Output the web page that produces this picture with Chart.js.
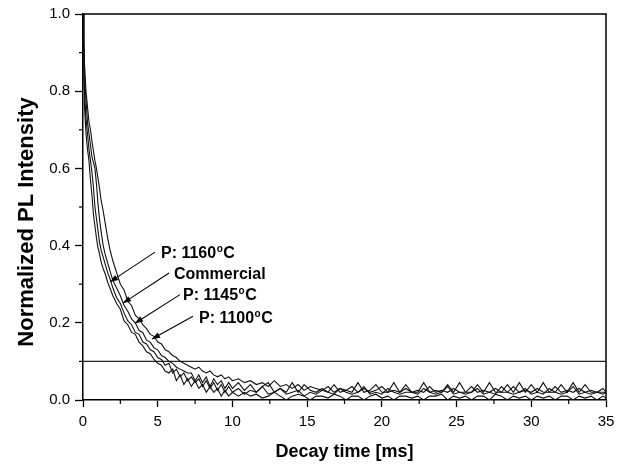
<!DOCTYPE html>
<html><head><meta charset="utf-8">
<script src="https://cdn.jsdelivr.net/npm/chart.js@4.4.1/dist/chart.umd.min.js"></script>
<style>html,body{margin:0;padding:0;background:#fff}canvas{display:block}</style>
</head><body>
<canvas id="c" width="626" height="467"></canvas>
<script>
// ---------- data ----------
const decayTime = [
  0,0.05,0.1,0.2,0.3,0.4,0.5,0.6,0.7,0.8,0.9,1.0,1.1,1.2,1.35,1.5,1.65,1.8,2.0,
  2.25,2.5,2.75,3.0,3.25,3.5,3.75,4.0,4.25,4.5,
  4.75,5.0,5.25,5.5,5.75,6.0,6.25,6.5,6.75,7.0,
  7.25,7.5,7.75,8.0,8.25,8.5,8.75,9.0,9.25,9.5,
  9.75,10.0,
  10.4,10.8,11.2,11.6,12.0,12.4,12.8,13.2,13.6,14.0,
  14.4,14.8,15.2,15.6,16.0,16.4,16.8,17.2,17.6,18.0,
  18.4,18.8,19.2,19.6,20.0,20.4,20.8,21.2,21.6,22.0,
  22.4,22.8,23.2,23.6,24.0,24.4,24.8,25.2,25.6,26.0,
  26.4,26.8,27.2,27.6,28.0,28.4,28.8,29.2,29.6,30.0,
  30.4,30.8,31.2,31.6,32.0,32.4,32.8,33.2,33.6,34.0,
  34.4,34.8,35.0
];
const intensityP1160 = [
  1.0,0.86,0.76,0.69,0.65,0.62,0.57,0.53,0.48,0.45,0.42,0.395,0.38,0.36,0.34,0.325,0.305,0.29,0.27,
  0.25,0.235,0.205,0.195,0.175,0.17,0.15,0.14,0.125,0.12,
  0.105,0.095,0.09,0.075,0.07,0.08,0.05,0.065,0.04,0.055,
  0.035,0.05,0.03,0.04,0.02,0.035,0.02,0.03,0.01,0.025,
  0.01,0.02,
  0.01,0.02,0.01,0.015,0.005,0.01,0.02,0.01,0.0,0.01,
  0.015,0.01,0.0,0.01,0.01,0.005,0.015,0.01,0.0,0.01,
  0.01,0.0,0.01,0.015,0.005,0.01,0.0,0.01,0.01,0.005,
  0.01,0.0,0.01,0.01,0.015,0.0,0.01,0.005,0.01,0.0,
  0.01,0.01,0.0,0.015,0.01,0.0,0.01,0.005,0.01,0.0,
  0.01,0.005,0.01,0.0,0.01,0.01,0.0,0.01,0.005,0.01,
  0.0,0.01,0.005
];
const intensityCommercial = [
  1.0,0.9,0.8,0.73,0.69,0.65,0.62,0.59,0.55,0.5,0.47,0.44,0.41,0.39,0.37,0.35,0.33,0.315,0.29,
  0.265,0.25,0.225,0.205,0.195,0.175,0.17,0.15,0.145,0.13,
  0.125,0.11,0.105,0.09,0.095,0.07,0.08,0.06,0.07,0.05,
  0.06,0.045,0.055,0.035,0.05,0.03,0.045,0.025,0.04,0.02,
  0.035,0.02,
  0.03,0.015,0.025,0.02,0.035,0.015,0.02,0.03,0.015,0.02,
  0.025,0.01,0.02,0.015,0.025,0.02,0.015,0.03,0.02,0.015,
  0.02,0.035,0.015,0.02,0.015,0.03,0.02,0.015,0.02,0.02,
  0.015,0.03,0.02,0.015,0.02,0.035,0.015,0.02,0.015,0.02,
  0.03,0.015,0.02,0.015,0.035,0.02,0.015,0.02,0.03,0.015,
  0.02,0.015,0.03,0.02,0.015,0.02,0.035,0.015,0.02,0.015,
  0.02,0.015,0.02
];
const intensityP1145 = [
  1.0,0.92,0.84,0.78,0.72,0.69,0.66,0.63,0.615,0.6,0.56,0.51,0.47,0.44,0.40,0.375,0.355,0.335,0.31,
  0.29,0.27,0.245,0.23,0.21,0.2,0.18,0.175,0.155,0.15,
  0.135,0.13,0.115,0.11,0.1,0.095,0.085,0.08,0.075,0.07,
  0.07,0.05,0.065,0.045,0.06,0.035,0.055,0.04,0.05,0.03,
  0.045,0.03,
  0.045,0.025,0.04,0.02,0.035,0.045,0.02,0.03,0.02,0.045,
  0.02,0.04,0.025,0.02,0.03,0.02,0.04,0.02,0.025,0.02,
  0.045,0.02,0.025,0.04,0.02,0.02,0.045,0.02,0.04,0.02,
  0.02,0.045,0.02,0.025,0.02,0.04,0.02,0.045,0.02,0.02,
  0.04,0.02,0.045,0.02,0.02,0.04,0.02,0.045,0.02,0.04,
  0.02,0.045,0.02,0.02,0.04,0.02,0.045,0.02,0.04,0.02,
  0.02,0.02,0.02
];
const intensityP1100 = [
  1.0,0.94,0.87,0.8,0.76,0.72,0.70,0.67,0.645,0.62,0.6,0.575,0.55,0.52,0.49,0.455,0.42,0.39,0.36,
  0.33,0.3,0.285,0.255,0.245,0.22,0.21,0.195,0.185,0.17,
  0.165,0.15,0.145,0.13,0.125,0.115,0.11,0.1,0.095,0.09,
  0.085,0.08,0.085,0.075,0.07,0.075,0.065,0.06,0.065,0.055,
  0.06,0.05,
  0.055,0.045,0.05,0.04,0.045,0.035,0.05,0.035,0.04,0.03,
  0.04,0.025,0.035,0.03,0.025,0.035,0.02,0.03,0.025,0.035,
  0.02,0.03,0.02,0.025,0.035,0.02,0.025,0.02,0.03,0.02,
  0.025,0.02,0.035,0.02,0.025,0.02,0.03,0.02,0.02,0.035,
  0.02,0.025,0.02,0.03,0.02,0.02,0.035,0.02,0.025,0.02,
  0.03,0.02,0.02,0.035,0.02,0.025,0.02,0.03,0.02,0.025,
  0.02,0.03,0.02
];
const seriesLabels = ['P: 1160°C', 'Commercial', 'P: 1145°C', 'P: 1100°C'];
const thresholdLevel = 0.1;
const xTitle = 'Decay time [ms]';
const yTitle = 'Normalized PL Intensity';

// ---------- presentation ----------
const FONT = "'Liberation Sans', Arial, Helvetica, sans-serif";
const annotationLayout = [
  { text: seriesLabels[0], textAt: [5.22, 0.383], from: [4.82, 0.383], to: [1.81, 0.306] },
  { text: seriesLabels[1], textAt: [6.09, 0.329], from: [5.76, 0.329], to: [2.68, 0.251] },
  { text: seriesLabels[2], textAt: [6.69, 0.275], from: [6.49, 0.273], to: [3.48, 0.199] },
  { text: seriesLabels[3], textAt: [7.76, 0.215], from: [7.36, 0.217], to: [4.62, 0.158] }
];

function toPoints(values) { return decayTime.map((t, i) => ({ x: t, y: values[i] })); }

const curveStyle = { borderColor: '#111', borderWidth: 1.1, pointRadius: 0, fill: false, tension: 0 };

const datasets = [
  Object.assign({ label: seriesLabels[0], data: toPoints(intensityP1160) }, curveStyle),
  Object.assign({ label: seriesLabels[1], data: toPoints(intensityCommercial) }, curveStyle),
  Object.assign({ label: seriesLabels[2], data: toPoints(intensityP1145) }, curveStyle),
  Object.assign({ label: seriesLabels[3], data: toPoints(intensityP1100) }, curveStyle),
  { label: 'threshold', data: [{ x: decayTime[0], y: thresholdLevel }, { x: decayTime[decayTime.length - 1], y: thresholdLevel }],
    borderColor: '#222', borderWidth: 1.2, pointRadius: 0, fill: false }
];

const framePlugin = {
  id: 'frame',
  afterDraw(chart) {
    const { ctx, chartArea: a, scales: { x, y } } = chart;
    ctx.save();
    ctx.strokeStyle = '#000';
    ctx.lineWidth = 1.5;
    ctx.beginPath();
    ctx.moveTo(a.left, a.top); ctx.lineTo(a.right, a.top); ctx.lineTo(a.right, a.bottom);
    ctx.stroke();
    ctx.lineWidth = 1.2;
    const xt = x.ticks.map(t => t.value);
    for (let i = 0; i < xt.length - 1; i++) {
      const px = x.getPixelForValue((xt[i] + xt[i + 1]) / 2);
      ctx.beginPath(); ctx.moveTo(px, a.bottom); ctx.lineTo(px, a.bottom + 4); ctx.stroke();
    }
    const yt = y.ticks.map(t => t.value);
    for (let i = 0; i < yt.length - 1; i++) {
      const py = y.getPixelForValue((yt[i] + yt[i + 1]) / 2);
      ctx.beginPath(); ctx.moveTo(a.left, py); ctx.lineTo(a.left - 4, py); ctx.stroke();
    }
    ctx.fillStyle = '#000';
    ctx.font = 'bold 22px ' + FONT;
    ctx.textAlign = 'center';
    ctx.textBaseline = 'middle';
    ctx.translate(27, (a.top + a.bottom) / 2 + 15);
    ctx.rotate(-Math.PI / 2);
    ctx.fillText(yTitle, 0, 0);
    ctx.restore();
  }
};

const annotationPlugin = {
  id: 'labels',
  afterDraw(chart) {
    const { ctx, scales: { x, y } } = chart;
    ctx.save();
    ctx.fillStyle = '#000';
    ctx.strokeStyle = '#000';
    annotationLayout.forEach(a => {
      const x1 = x.getPixelForValue(a.from[0]), y1 = y.getPixelForValue(a.from[1]);
      const x2 = x.getPixelForValue(a.to[0]), y2 = y.getPixelForValue(a.to[1]);
      ctx.lineWidth = 1.1;
      ctx.beginPath(); ctx.moveTo(x1, y1); ctx.lineTo(x2, y2); ctx.stroke();
      const ang = Math.atan2(y2 - y1, x2 - x1);
      const L = 8, W = 3;
      ctx.beginPath();
      ctx.moveTo(x2, y2);
      ctx.lineTo(x2 - L * Math.cos(ang) + W * Math.sin(ang), y2 - L * Math.sin(ang) - W * Math.cos(ang));
      ctx.lineTo(x2 - L * Math.cos(ang) - W * Math.sin(ang), y2 - L * Math.sin(ang) + W * Math.cos(ang));
      ctx.closePath(); ctx.fill();
      const tx = x.getPixelForValue(a.textAt[0]);
      const base = y.getPixelForValue(a.textAt[1]) + 6;
      ctx.textAlign = 'left';
      ctx.textBaseline = 'alphabetic';
      const parts = a.text.split('°');
      ctx.font = 'bold 16px ' + FONT;
      ctx.fillText(parts[0], tx, base);
      let cx = tx + ctx.measureText(parts[0]).width;
      if (parts.length > 1) {
        ctx.font = 'bold 10px ' + FONT;
        ctx.fillText('o', cx + 0.5, base - 6);
        cx += ctx.measureText('o').width + 1;
        ctx.font = 'bold 16px ' + FONT;
        ctx.fillText(parts[1], cx, base);
      }
    });
    ctx.restore();
  }
};

new Chart(document.getElementById('c'), {
  type: 'line',
  data: { datasets },
  options: {
    responsive: false,
    animation: false,
    devicePixelRatio: 1,
    layout: { padding: { left: 0, right: 20, top: 14, bottom: 0 } },
    plugins: { legend: { display: false }, tooltip: { enabled: false } },
    scales: {
      x: {
        type: 'linear', min: 0, max: 35,
        afterFit(s) { s.height = 67; },
        ticks: { stepSize: 5, color: '#000', padding: 6, maxRotation: 0, font: { family: FONT, size: 15 } },
        grid: { drawOnChartArea: false, drawTicks: true, tickLength: 7, tickColor: '#000', tickWidth: 1.3 },
        border: { display: true, color: '#000', width: 1.5 },
        title: { display: true, text: xTitle, color: '#000', font: { family: FONT, size: 18, weight: 'bold' }, padding: { top: 0, bottom: 4 } }
      },
      y: {
        type: 'linear', min: 0, max: 1,
        afterFit(s) { s.width = 83; },
        ticks: { stepSize: 0.2, color: '#000', padding: 5, font: { family: FONT, size: 15 }, callback: v => v.toFixed(1) },
        grid: { drawOnChartArea: false, drawTicks: true, tickLength: 8, tickColor: '#000', tickWidth: 1.3 },
        border: { display: true, color: '#000', width: 1.5 }
      }
    }
  },
  plugins: [framePlugin, annotationPlugin]
});
</script>
</body></html>
